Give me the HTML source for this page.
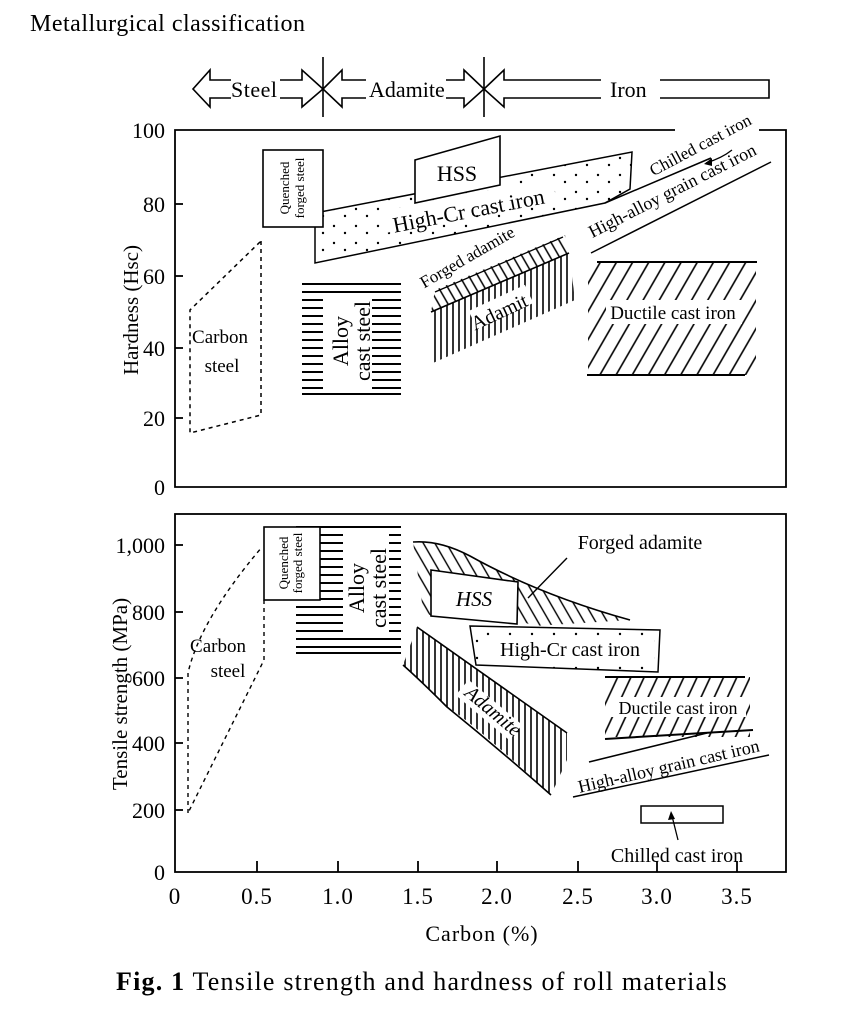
<!DOCTYPE html>
<html><head><meta charset="utf-8"><style>
html,body{margin:0;padding:0;background:#fff;}
svg{display:block;}
text{font-family:"Liberation Serif",serif;fill:#000;}
</style></head><body>
<svg width="861" height="1024" viewBox="0 0 861 1024" xmlns="http://www.w3.org/2000/svg">
<defs>
<pattern id="vh" width="6" height="10" patternUnits="userSpaceOnUse"><line x1="3" y1="0" x2="3" y2="10" stroke="#000" stroke-width="1.6"/></pattern>
<pattern id="bs" width="8" height="8" patternUnits="userSpaceOnUse" patternTransform="rotate(-30)"><line x1="4" y1="0" x2="4" y2="8" stroke="#000" stroke-width="1.5"/></pattern>
<pattern id="fs" width="14" height="14" patternUnits="userSpaceOnUse" patternTransform="rotate(30)"><line x1="7" y1="0" x2="7" y2="14" stroke="#000" stroke-width="1.6"/></pattern>
<pattern id="fs2" width="12" height="12" patternUnits="userSpaceOnUse" patternTransform="rotate(25)"><line x1="6" y1="0" x2="6" y2="12" stroke="#000" stroke-width="1.6"/></pattern>
<pattern id="bs2" width="10" height="10" patternUnits="userSpaceOnUse" patternTransform="rotate(-30)"><line x1="5" y1="0" x2="5" y2="10" stroke="#000" stroke-width="1.4"/></pattern>
<pattern id="dots" width="22" height="17" patternUnits="userSpaceOnUse"><circle cx="4" cy="5" r="1.2"/><circle cx="15" cy="12" r="1.2"/></pattern>
</defs>

<!-- Header -->
<text x="30" y="31" font-size="24" letter-spacing="0.5">Metallurgical classification</text>
<g fill="none" stroke="#000" stroke-width="1.6">
 <polyline points="231,80 210,80 210,70 193,89 210,107 210,98 231,98"/>
 <polyline points="280,80 302,80 302,70 323,89 302,107 302,98 280,98"/>
 <line x1="323" y1="57" x2="323" y2="117"/>
 <polyline points="366,80 342,80 342,70 323,89 342,107 342,98 366,98"/>
 <polyline points="446,80 464,80 464,70 484,89 464,107 464,98 446,98"/>
 <line x1="484" y1="57" x2="484" y2="117"/>
 <polyline points="601,80 504,80 504,70 484,89 504,107 504,98 601,98"/>
 <polyline points="660,80 769,80 769,98 660,98"/>
</g>
<text x="231" y="97" font-size="22" letter-spacing="0.5">Steel</text>
<text x="369" y="97" font-size="22">Adamite</text>
<text x="610" y="97" font-size="22">Iron</text>

<!-- Top plot frame -->
<g stroke="#000" stroke-width="1.8" fill="none">
 <polyline points="675,130 175,130 175,487 786,487 786,130 759,130"/>
 <line x1="175" y1="204" x2="183" y2="204"/><line x1="175" y1="276" x2="183" y2="276"/>
 <line x1="175" y1="348" x2="183" y2="348"/><line x1="175" y1="418" x2="183" y2="418"/>
</g>
<g font-size="22" text-anchor="end">
 <text x="165" y="138">100</text><text x="165" y="212">80</text><text x="165" y="284">60</text>
 <text x="165" y="356">40</text><text x="165" y="426">20</text><text x="165" y="495">0</text>
</g>
<text transform="translate(138,310) rotate(-90)" font-size="21" text-anchor="middle">Hardness (Hsc)</text>

<!-- Carbon steel top -->
<polygon points="261,241 261,415 190,433 190,310" fill="none" stroke="#000" stroke-width="1.5" stroke-dasharray="4,4"/>
<text x="220" y="343" font-size="19" text-anchor="middle">Carbon</text>
<text x="222" y="372" font-size="19" text-anchor="middle">steel</text>

<!-- High-Cr band top -->
<polygon points="315,213 632,152 630,189 605,203 315,263" fill="url(#dots)" stroke="#000" stroke-width="1.5"/>
<line x1="605" y1="203" x2="711" y2="158" stroke="#000" stroke-width="1.5"/>
<path d="M732,150 Q722,158 706,163" fill="none" stroke="#000" stroke-width="1.3"/>
<polygon points="704,164 712,158 712,166" fill="#000"/>
<text transform="translate(703,150) rotate(-28)" font-size="17" text-anchor="middle">Chilled cast iron</text>
<line x1="591" y1="253" x2="771" y2="162" stroke="#000" stroke-width="1.5"/>
<text transform="translate(675,196) rotate(-27)" font-size="18" text-anchor="middle">High-alloy grain cast iron</text>
<rect x="378" y="195" width="178" height="22" fill="#fff" transform="rotate(-11 467 206)"/>
<text transform="translate(470,218) rotate(-11)" font-size="22" text-anchor="middle">High-Cr cast iron</text>

<!-- HSS top -->
<polygon points="415,160 500,136 500,185 415,203" fill="#fff" stroke="#000" stroke-width="1.6"/>
<text x="457" y="181" font-size="22" text-anchor="middle">HSS</text>

<!-- Quenched top -->
<rect x="263" y="150" width="60" height="77" fill="#fff" stroke="#000" stroke-width="1.6"/>
<text transform="translate(289,188) rotate(-90)" font-size="13" text-anchor="middle">Quenched</text>
<text transform="translate(304,188) rotate(-90)" font-size="13" text-anchor="middle">forged steel</text>

<!-- Alloy cast steel top -->
<g stroke="#000" stroke-width="2">
 <line x1="302" y1="284" x2="401" y2="284"/><line x1="302" y1="292" x2="401" y2="292"/>
 <line x1="302" y1="300" x2="401" y2="300"/><line x1="302" y1="308" x2="401" y2="308"/>
 <line x1="302" y1="316" x2="401" y2="316"/><line x1="302" y1="324" x2="401" y2="324"/>
 <line x1="302" y1="332" x2="401" y2="332"/><line x1="302" y1="340" x2="401" y2="340"/>
 <line x1="302" y1="348" x2="401" y2="348"/><line x1="302" y1="356" x2="401" y2="356"/>
 <line x1="302" y1="364" x2="401" y2="364"/><line x1="302" y1="372" x2="401" y2="372"/>
 <line x1="302" y1="380" x2="401" y2="380"/><line x1="302" y1="388" x2="401" y2="388"/>
 <line x1="302" y1="394" x2="401" y2="394"/>
</g>
<rect x="323" y="297" width="49" height="92" fill="#fff"/>
<text transform="translate(348,341) rotate(-90)" font-size="22" text-anchor="middle">Alloy</text>
<text transform="translate(370,341) rotate(-90)" font-size="22" text-anchor="middle">cast steel</text>

<!-- Adamite top -->
<polygon points="431,312 569,253 575,300 433,363" fill="url(#vh)"/>
<line x1="431" y1="312" x2="569" y2="253" stroke="#000" stroke-width="1.6"/>
<polygon points="435,290 565,235 569,253 431,312" fill="url(#bs)"/>
<line x1="435" y1="292" x2="563" y2="237" stroke="#000" stroke-width="1.3"/>
<text transform="translate(470,262) rotate(-30)" font-size="17" text-anchor="middle">Forged adamite</text>
<rect x="470" y="297" width="62" height="20" fill="#fff" transform="rotate(-25 501 307)"/>
<text transform="translate(502,318) rotate(-25)" font-size="20" text-anchor="middle">Adamit</text>

<!-- Ductile top -->
<rect x="588" y="262" width="168" height="113" fill="url(#fs)"/>
<line x1="597" y1="262" x2="757" y2="262" stroke="#000" stroke-width="2"/>
<line x1="587" y1="375" x2="745" y2="375" stroke="#000" stroke-width="2"/>
<rect x="606" y="300" width="136" height="24" fill="#fff"/>
<text x="673" y="319" font-size="19" text-anchor="middle">Ductile cast iron</text>

<!-- Bottom plot frame -->
<g stroke="#000" stroke-width="1.8" fill="none">
 <rect x="175" y="514" width="611" height="358"/>
 <line x1="175" y1="545" x2="183" y2="545"/><line x1="175" y1="612" x2="183" y2="612"/>
 <line x1="175" y1="678" x2="183" y2="678"/><line x1="175" y1="743" x2="183" y2="743"/>
 <line x1="175" y1="810" x2="183" y2="810"/>
 <line x1="257" y1="872" x2="257" y2="861"/><line x1="338" y1="872" x2="338" y2="861"/>
 <line x1="418" y1="872" x2="418" y2="861"/><line x1="497" y1="872" x2="497" y2="861"/>
 <line x1="578" y1="872" x2="578" y2="861"/><line x1="657" y1="872" x2="657" y2="861"/>
 <line x1="737" y1="872" x2="737" y2="861"/>
</g>
<g font-size="22" text-anchor="end">
 <text x="165" y="553">1,000</text><text x="165" y="620">800</text><text x="165" y="686">600</text>
 <text x="165" y="751">400</text><text x="165" y="818">200</text><text x="165" y="880">0</text>
</g>
<g font-size="23" text-anchor="middle" letter-spacing="1">
 <text x="175" y="904">0</text><text x="257" y="904">0.5</text><text x="338" y="904">1.0</text>
 <text x="418" y="904">1.5</text><text x="497" y="904">2.0</text><text x="578" y="904">2.5</text>
 <text x="657" y="904">3.0</text><text x="737" y="904">3.5</text>
</g>
<text transform="translate(127,694) rotate(-90)" font-size="21" text-anchor="middle">Tensile strength (MPa)</text>
<text x="482" y="941" font-size="22" text-anchor="middle" letter-spacing="1">Carbon (%)</text>
<text x="422" y="990" font-size="26" text-anchor="middle" letter-spacing="1.2"><tspan font-weight="bold">Fig. 1</tspan> Tensile strength and hardness of roll materials</text>

<!-- Carbon steel bottom -->
<path d="M188,813 L188,673 Q200,620 262,547 M264,600 L264,660 L188,813" fill="none" stroke="#000" stroke-width="1.4" stroke-dasharray="4,4"/>
<text x="218" y="652" font-size="19" text-anchor="middle">Carbon</text>
<text x="228" y="677" font-size="19" text-anchor="middle">steel</text>

<!-- Alloy bottom -->
<g stroke="#000" stroke-width="2">
 <line x1="296" y1="527" x2="401" y2="527"/><line x1="296" y1="535" x2="401" y2="535"/>
 <line x1="296" y1="543" x2="401" y2="543"/><line x1="296" y1="551" x2="401" y2="551"/>
 <line x1="296" y1="559" x2="401" y2="559"/><line x1="296" y1="567" x2="401" y2="567"/>
 <line x1="296" y1="575" x2="401" y2="575"/><line x1="296" y1="583" x2="401" y2="583"/>
 <line x1="296" y1="591" x2="401" y2="591"/><line x1="296" y1="599" x2="401" y2="599"/>
 <line x1="296" y1="607" x2="401" y2="607"/><line x1="296" y1="615" x2="401" y2="615"/>
 <line x1="296" y1="623" x2="401" y2="623"/><line x1="296" y1="631" x2="401" y2="631"/>
 <line x1="296" y1="639" x2="401" y2="639"/><line x1="296" y1="647" x2="401" y2="647"/>
 <line x1="296" y1="653" x2="401" y2="653"/>
</g>
<rect x="343" y="534" width="46" height="100" fill="#fff"/>
<text transform="translate(364,588) rotate(-90)" font-size="22" text-anchor="middle">Alloy</text>
<text transform="translate(386,588) rotate(-90)" font-size="22" text-anchor="middle">cast steel</text>
<rect x="264" y="527" width="56" height="73" fill="#fff" stroke="#000" stroke-width="1.6"/>
<text transform="translate(288,563) rotate(-90)" font-size="13" text-anchor="middle">Quenched</text>
<text transform="translate(302,563) rotate(-90)" font-size="13" text-anchor="middle">forged steel</text>

<!-- Forged adamite bottom -->
<path d="M413,542 Q440,540 470,556 Q540,595 630,620 L534,626 L518,620 L431,616 L423,610 Z" fill="url(#bs2)"/>
<path d="M413,542 Q440,540 470,556 Q540,595 630,620" fill="none" stroke="#000" stroke-width="1.6"/>
<polygon points="431,570 518,582 517,624 431,616" fill="#fff" stroke="#000" stroke-width="1.6"/>
<text x="474" y="606" font-size="21" font-style="italic" text-anchor="middle">HSS</text>
<text x="640" y="549" font-size="20" text-anchor="middle">Forged adamite</text>
<line x1="567" y1="558" x2="528" y2="598" stroke="#000" stroke-width="1.4"/>

<!-- High-Cr bottom -->
<polygon points="470,626 660,630 658,672 476,665" fill="url(#dots)" stroke="#000" stroke-width="1.5"/>
<rect x="486" y="638" width="168" height="22" fill="#fff"/>
<text x="570" y="656" font-size="20" text-anchor="middle">High-Cr cast iron</text>

<!-- Adamite bottom -->
<path d="M417,627 L567,733 L567,760 L551,795 Q470,720 447,707 Q420,680 403,665 Z" fill="url(#vh)"/>
<path d="M417,627 L567,733 M403,665 Q420,680 447,707 Q500,750 551,795" fill="none" stroke="#000" stroke-width="1.6"/>
<rect x="454" y="700" width="70" height="20" fill="#fff" transform="rotate(40 489 710)"/>
<text transform="translate(489,716) rotate(40)" font-size="20" font-style="italic" text-anchor="middle">Adamite</text>

<!-- Ductile bottom -->
<rect x="605" y="677" width="145" height="60" fill="url(#fs2)"/>
<line x1="605" y1="677" x2="745" y2="677" stroke="#000" stroke-width="2"/>
<line x1="605" y1="739" x2="753" y2="730" stroke="#000" stroke-width="2"/>
<rect x="610" y="697" width="136" height="20" fill="#fff"/>
<text x="678" y="714" font-size="18" text-anchor="middle">Ductile cast iron</text>

<!-- High-alloy bottom -->
<line x1="589" y1="762" x2="707" y2="733" stroke="#000" stroke-width="1.5"/>
<line x1="573" y1="797" x2="769" y2="755" stroke="#000" stroke-width="1.5"/>
<text transform="translate(670,772) rotate(-13)" font-size="18" text-anchor="middle">High-alloy grain cast iron</text>

<!-- Chilled bottom -->
<rect x="641" y="806" width="82" height="17" fill="#fff" stroke="#000" stroke-width="1.5"/>
<line x1="678" y1="840" x2="672" y2="816" stroke="#000" stroke-width="1.3"/>
<polygon points="671,811 668,820 675,819" fill="#000"/>
<text x="677" y="862" font-size="20" text-anchor="middle">Chilled cast iron</text>
</svg>
</body></html>
